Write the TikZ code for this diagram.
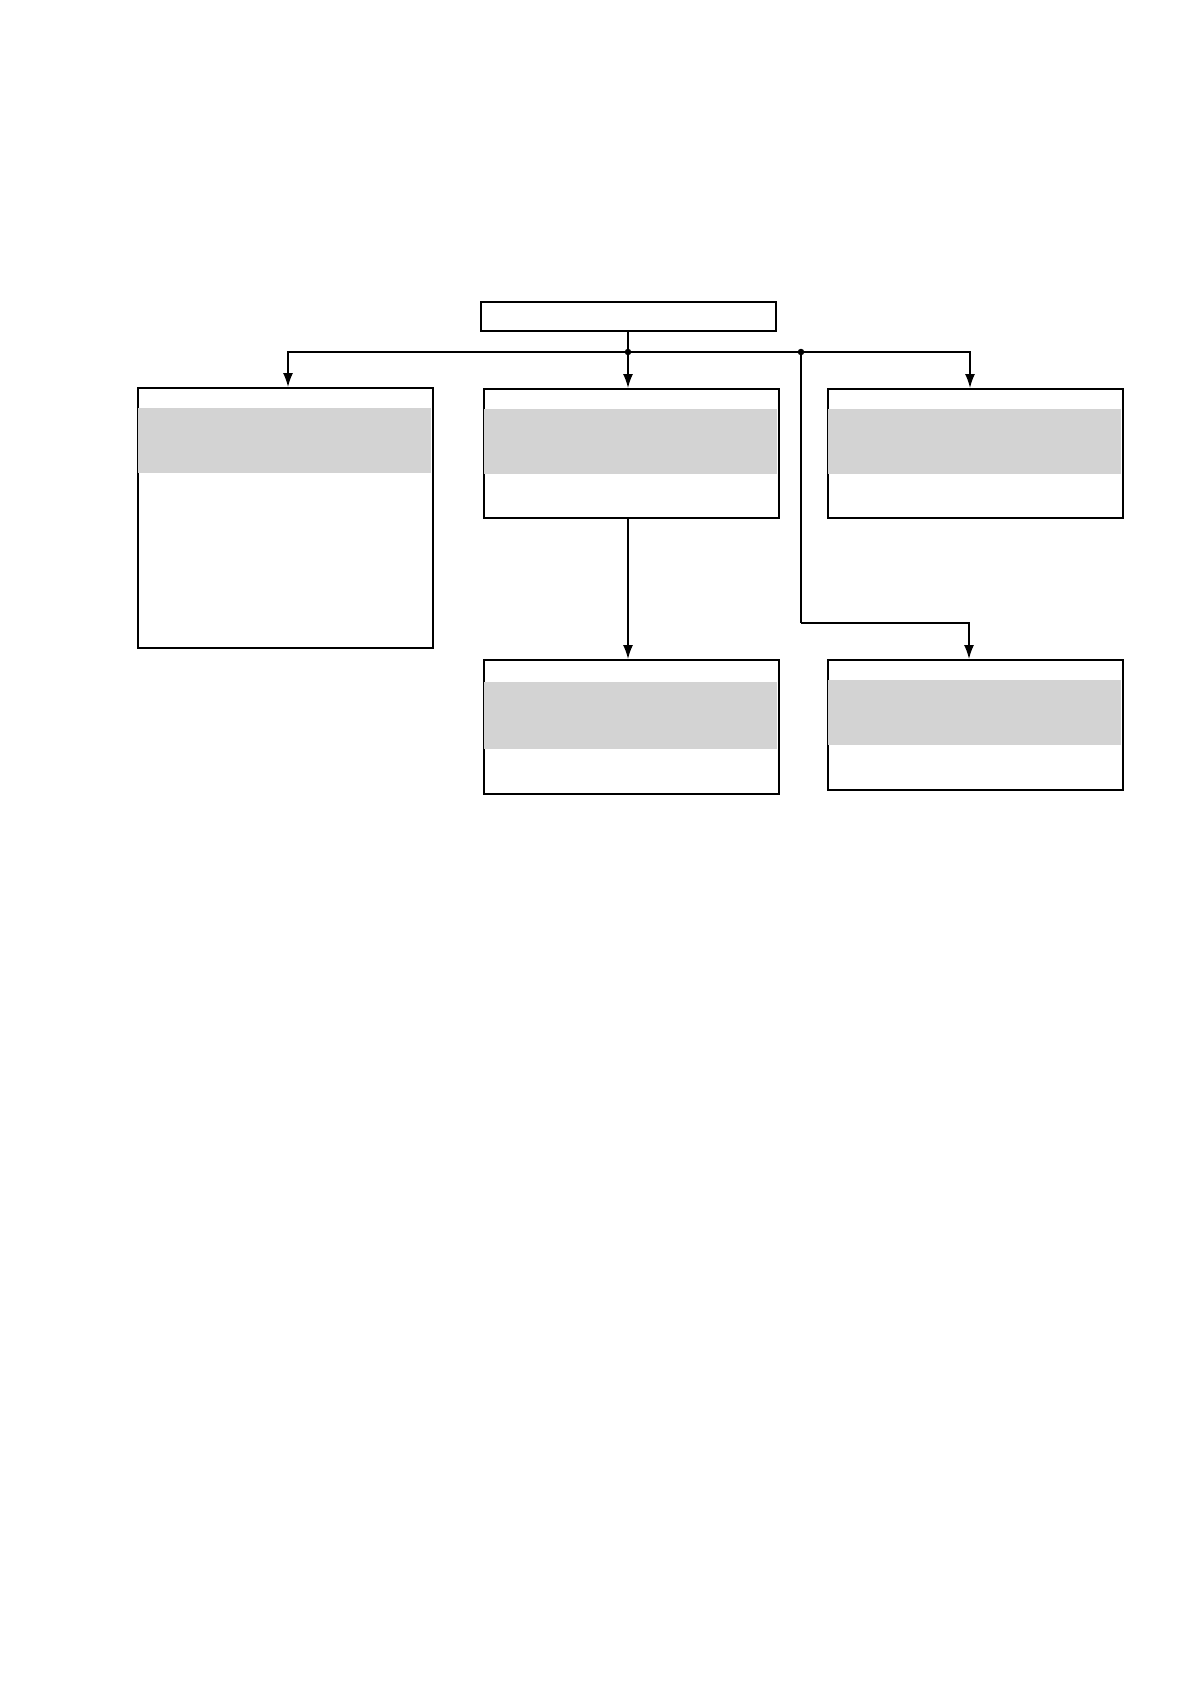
\documentclass[tikz,border=0pt]{standalone}
\usetikzlibrary{arrows.meta,calc}
\definecolor{bandgray}{RGB}{211,211,211}
\tikzset{
  box/.style={draw=black, line width=2.2pt, rectangle, inner sep=0pt, anchor=north west},
  conn/.style={draw=black, line width=1.5pt},
  arr/.style={conn, -{Latex[length=14pt,width=10pt]}},
  jdot/.style={circle, fill=black, inner sep=0pt, minimum size=6.5pt},
  band/.style={fill=bandgray}
}
\begin{document}
\begin{tikzpicture}[x=1pt,y=-1pt]
\useasboundingbox (0,0) rectangle (1191,1684);
\fill[white] (0,0) rectangle (1191,1684);
% boxes
\node[box, minimum width=295pt, minimum height=29pt] (T) at (480,301) {};
\node[box, minimum width=295pt, minimum height=260pt] (L) at (137,387) {};
\node[box, minimum width=295pt, minimum height=129pt] (M) at (483,388) {};
\node[box, minimum width=295pt, minimum height=129pt] (R) at (827,388) {};
\node[box, minimum width=295pt, minimum height=134pt] (B1) at (483,659) {};
\node[box, minimum width=295pt, minimum height=130pt] (B2) at (827,659) {};
% grey bands
\fill[band] (138,408) rectangle (431,473);
\fill[band] (484,409) rectangle (777,474);
\fill[band] (828,409) rectangle (1121,474);
\fill[band] (484,682) rectangle (777,749);
\fill[band] (828,680) rectangle (1121,745);
% junctions
\coordinate (j1) at (628,352);
\coordinate (j2) at (801,352);
\coordinate (k2) at (801,623);
\draw[conn] (T.south -| j1) -- (j1);
\draw[arr] (j1) -- (288,352) -- (L.north -| 288,0);
\draw[arr] (j1) -- (j1 |- M.north);
\draw[conn] (j1) -- (j2);
\draw[arr] (j2) -- (970,352) -- (R.north -| 970,0);
\draw[arr] (M.south -| j1) -- (j1 |- B1.north);
\draw[conn] (j2) -- (k2);
\draw[arr] (k2) -- (969,623) -- (B2.north -| 969,0);
\node[jdot] (d1) at (j1) {};
\node[jdot] (d2) at (j2) {};
\end{tikzpicture}
\end{document}
